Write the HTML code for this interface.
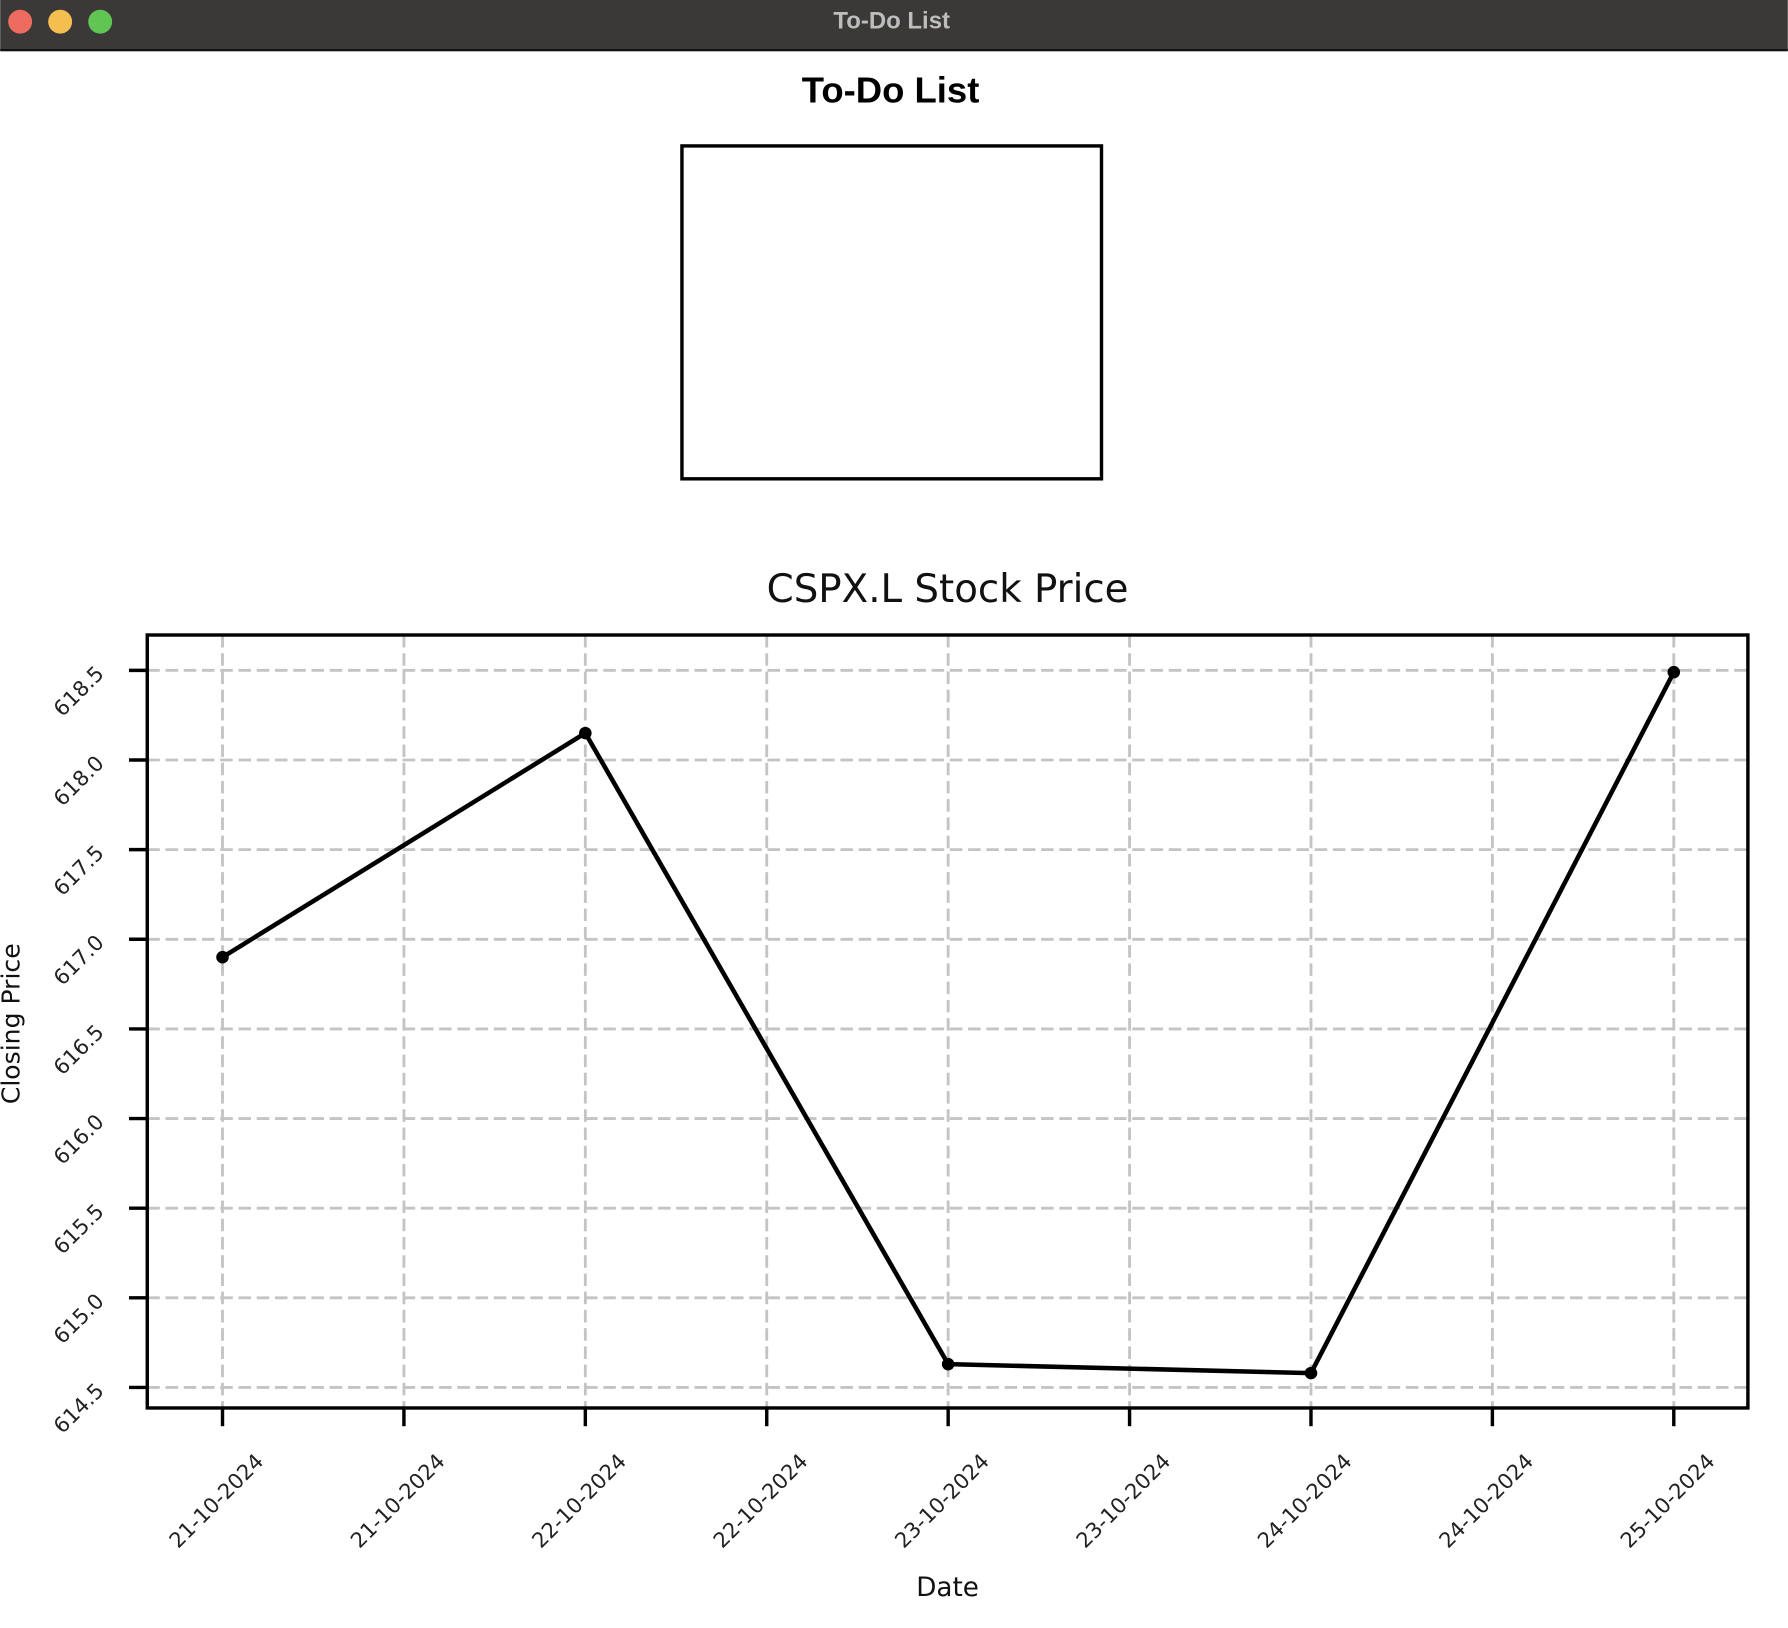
<!DOCTYPE html>
<html><head><meta charset="utf-8"><style>
html,body{margin:0;padding:0;background:#fff;overflow:hidden}
svg{display:block}
text{font-family:"DejaVu Sans","Liberation Sans",sans-serif}
</style></head><body>
<svg id="root" width="1788" height="1628" viewBox="0 0 1568 1428">
<rect x="0" y="0" width="1568" height="44" fill="#3a3938"/>
<rect x="0" y="43" width="1568" height="2" fill="#111"/>
<circle cx="17.5" cy="19" r="10.5" fill="#ee6b60"/>
<circle cx="52.6" cy="19" r="10.5" fill="#f5bf4f"/>
<circle cx="87.7" cy="19" r="10.5" fill="#61c554"/>
<text x="782" y="25" text-anchor="middle" font-size="21" font-weight="bold" fill="#bdbdbd" style="font-family:'Liberation Sans',sans-serif">To-Do List</text>
<text x="781" y="90" text-anchor="middle" font-size="32" font-weight="bold" fill="#000" style="font-family:'Liberation Sans',sans-serif">To-Do List</text>
<rect x="598" y="128" width="368" height="292" fill="#fff" stroke="#000" stroke-width="3"/>
<text x="831" y="528" text-anchor="middle" font-size="34" fill="#111">CSPX.L Stock Price</text>
<g id="grid"></g>
<g id="chart"></g>
<rect x="129" y="557" width="1404" height="678" fill="none" stroke="#000" stroke-width="3"/>
<text transform="translate(17,898) rotate(-90)" text-anchor="middle" font-size="22" fill="#111">Closing Price</text>
<text x="831" y="1400" text-anchor="middle" font-size="23" fill="#111">Date</text>
</svg>
<script>
const xTickLabels = ["21-10-2024","21-10-2024","22-10-2024","22-10-2024","23-10-2024","23-10-2024","24-10-2024","24-10-2024","25-10-2024"];
const yTicks = [614.5,615.0,615.5,616.0,616.5,617.0,617.5,618.0,618.5];
const dayIndex = [0,1,2,3,4];
const closes = [616.90,618.15,614.63,614.58,618.49];

const NS="http://www.w3.org/2000/svg";
function xs(i){return 195+(1468-195)*i/8;}
function xd(d){return xs(d*2);}
function ys(v){return 1217-(v-614.5)*(1217-588)/4;}
function mk(tag,attrs,parent){const e=document.createElementNS(NS,tag);for(const k in attrs)e.setAttribute(k,attrs[k]);parent.appendChild(e);return e;}
const grid=document.getElementById('grid'), chart=document.getElementById('chart');

xTickLabels.forEach((lab,i)=>{
  const x=xs(i);
  const g=mk('line',{x1:x,y1:557,x2:x,y2:1235,stroke:'#c4c4c4','stroke-width':2.5,'stroke-dasharray':'11,5'},grid);
  
  
  const t=mk('line',{x1:x,y1:1235,x2:x,y2:1251,stroke:'#000','stroke-width':3},chart);
  
  
  const tx=mk('text',{x:0,y:0,'text-anchor':'end','font-size':18.5,fill:'#222',transform:`translate(${x+37},${1283}) rotate(-45)`},chart);
  tx.textContent=lab;
  
  
});
yTicks.forEach(v=>{
  const y=ys(v);
  const g=mk('line',{x1:129,y1:y,x2:1533,y2:y,stroke:'#c4c4c4','stroke-width':2.5,'stroke-dasharray':'11,5'},grid);
  
  
  const t=mk('line',{x1:113,y1:y,x2:129,y2:y,stroke:'#000','stroke-width':3},chart);
  
  
  const tx=mk('text',{x:0,y:0,'text-anchor':'end','font-size':18.5,fill:'#222',transform:`translate(${92},${y+4}) rotate(-45)`},chart);
  tx.textContent=v.toFixed(1);
  
  
});
const pts=dayIndex.map((d,i)=>xd(d)+','+ys(closes[i])).join(' ');
const line=mk('polyline',{points:pts,fill:'none',stroke:'#000','stroke-width':4,'stroke-linejoin':'round'},chart);


dayIndex.forEach((d,i)=>{
  const c=mk('circle',{cx:xd(d),cy:ys(closes[i]),r:5.5,fill:'#000'},chart);
  
  
});
</script>
</body></html>
